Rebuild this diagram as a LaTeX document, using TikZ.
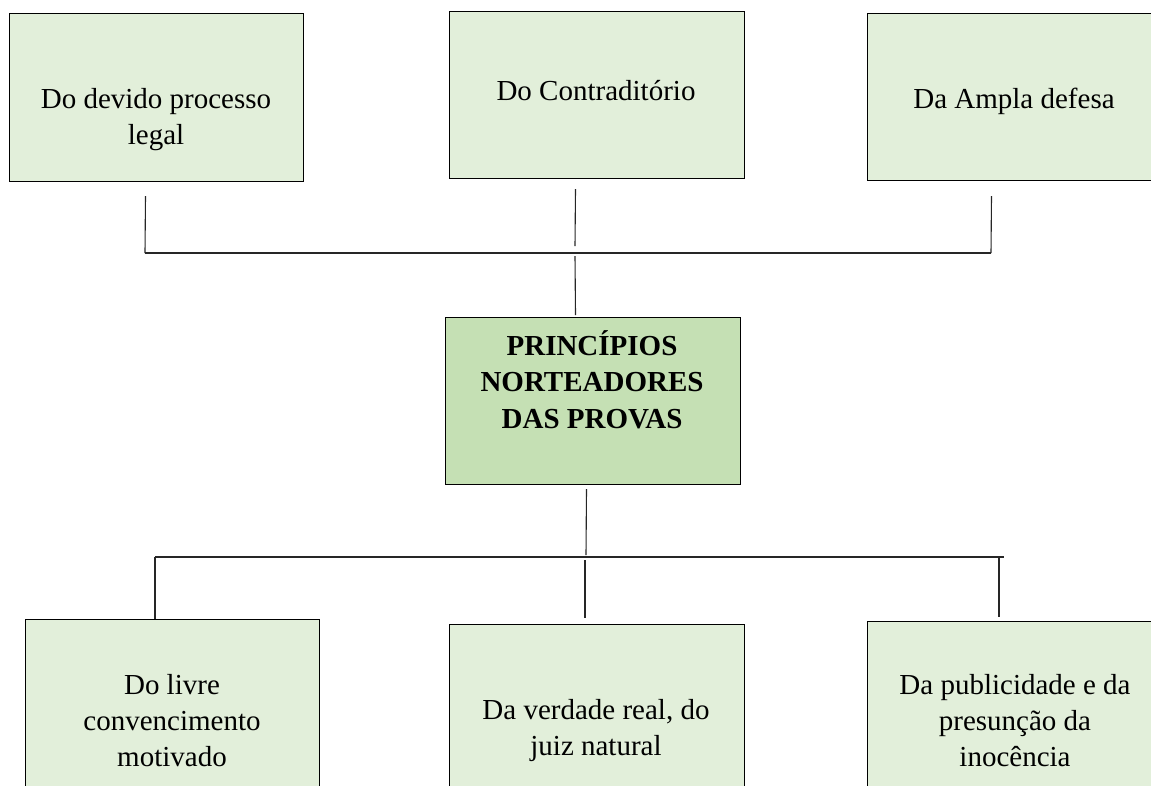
\documentclass[tikz,border=0pt]{standalone}
\usepackage{fontspec}
\setmainfont{Liberation Serif}
\usetikzlibrary{calc}
\definecolor{lightg}{HTML}{E2EFDA}
\definecolor{midg}{HTML}{C5E0B4}
\begin{document}
\begin{tikzpicture}[x=1pt,y=-1pt,
  box/.style={draw=black,line width=1pt,fill=lightg,anchor=north west,inner sep=0pt},
  mainbox/.style={box,fill=midg},
  lbl/.style={font=\fontsize{29}{36}\selectfont,align=center,anchor=base,inner sep=0pt},
  conn/.style={draw=black!85,line width=1.1pt}]
\useasboundingbox (0,0) rectangle (1151,785);
\clip (0,0) rectangle (1151,785);
% boxes
\node[box,minimum width=294pt,minimum height=168pt] (tl) at (9,13) {};
\node[box,minimum width=295pt,minimum height=167pt] (tm) at (449,11) {};
\node[box,minimum width=295pt,minimum height=167pt] (tr) at (867,13) {};
\node[mainbox,minimum width=295pt,minimum height=167pt] (pr) at (445,317) {};
\node[box,minimum width=294pt,minimum height=172pt] (bl) at (25,619) {};
\node[box,minimum width=295pt,minimum height=168pt] (bm) at (449,624) {};
\node[box,minimum width=295pt,minimum height=170pt] (br) at (867,621) {};
% labels (anchor = baseline of the last line)
\node[lbl] (tlt) at (156,144) {Do devido processo\\legal};
\node[lbl] (tmt) at (596,100) {Do Contraditório};
\node[lbl] (trt) at (1014,108) {Da Ampla defesa};
\node[lbl,font=\fontsize{29}{36.5}\selectfont\bfseries] (prt) at (592,428) {PRINCÍPIOS\\NORTEADORES\\DAS PROVAS};
\node[lbl] (blt) at (172,766) {Do livre\\convencimento\\motivado};
\node[lbl] (bmt) at (596,755) {Da verdade real, do\\juiz natural};
\node[lbl] (brt) at (1015,766) {Da publicidade e da\\presunção da\\inocência};
% junction coordinates
\coordinate (jtL) at (145,253);
\coordinate (jtM) at (575,253);
\coordinate (jtR) at (991,253);
\coordinate (jbL) at (155,557);
\coordinate (jbM) at (585,557);
\coordinate (jbR) at (1004,557);
% top connectors
\draw[conn] ($(tl.south)+(-11,14)$) -- (jtL);
\draw[conn] ($(tm.south)+(-21.5,10)$) -- ($(jtM)+(0,-7)$);
\draw[conn] ($(tr.south)+(-23.5,15)$) -- (jtR);
\draw[conn] (jtL) -- (jtR);
\draw[conn] ($(jtM)+(0,3)$) -- ($(pr.north)+(-17.5,-2)$);
% bottom connectors
\draw[conn] ($(pr.south)+(-6.5,4)$) -- ($(jbM)+(1,-2)$);
\draw[conn] (jbL) -- (jbR);
\draw[conn] (jbL) -- (bl.north -| jbL);
\draw[conn] ($(jbM)+(0,3)$) -- ($(bm.north -| jbM)+(0,-6)$);
\draw[conn] ($(jbR)+(-5,0)$) -- ($(br.north -| jbR)+(-5,-4)$);
\end{tikzpicture}
\end{document}
